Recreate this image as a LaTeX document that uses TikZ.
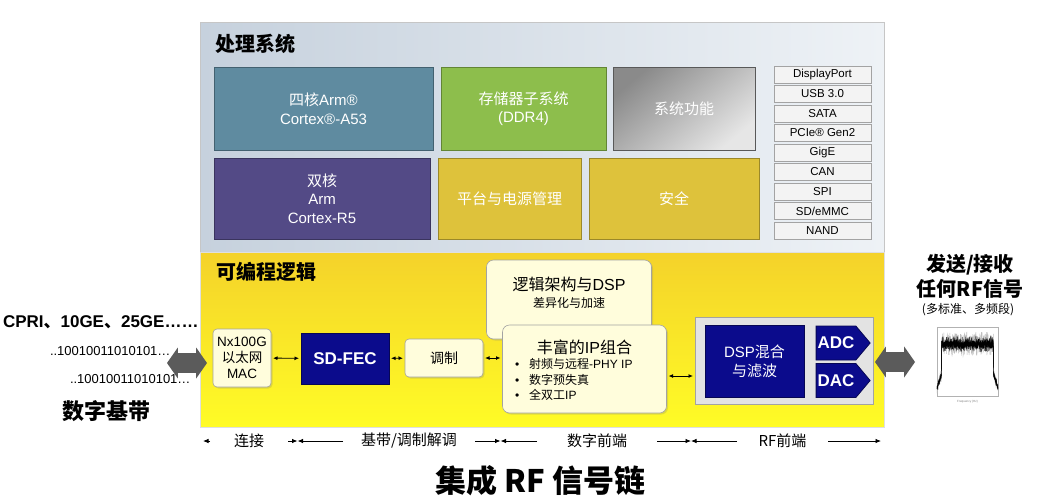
\documentclass[tikz,border=0pt]{standalone}
\usepackage{fontspec}
\setmainfont{Liberation Sans}
\newfontfamily\cjk{Noto Sans CJK SC}
\usetikzlibrary{arrows.meta,shapes.arrows,shapes.symbols,shadows}
\definecolor{rfSteel}{HTML}{5F8BA0}
\definecolor{rfGreen}{HTML}{8DBE4C}
\definecolor{rfPurple}{HTML}{534A86}
\definecolor{rfGold}{HTML}{DEC23B}
\definecolor{rfNavy}{HTML}{0B0B8C}
\definecolor{rfCream}{HTML}{FFFDDC}
\definecolor{rfEdge}{HTML}{A3A3A3}
\definecolor{rfIface}{HTML}{F3F3F3}
\definecolor{rfArrow}{HTML}{5B5B5B}
\definecolor{rfShadeD}{HTML}{8A8A8A}
\definecolor{rfShadeL}{HTML}{E6E6E6}
\definecolor{rfPanelL}{HTML}{C6D1DD}
\definecolor{rfPanelR}{HTML}{EEF2F6}
\definecolor{rfYellowT}{HTML}{F4D22A}
\definecolor{rfYellowB}{HTML}{FFFC26}
\newcommand{\rfsize}[2]{\fontsize{#1}{#2}\selectfont}
\tikzset{
  rf diagram/.style={
    line width=0.8pt,
    every node/.style={inner sep=0pt, outer sep=0pt, text=black,
      font=\rfsize{15}{18.5}}
  },
  ps panel/.style={left color=rfPanelL, right color=rfPanelR,
    draw=gray!45, line width=0.6pt},
  pl panel/.style={top color=rfYellowT, bottom color=rfYellowB,
    draw=gray!25, line width=0.6pt},
  panel title/.style={anchor=west, font=\cjk\bfseries\rfsize{20}{24}},
  ps block/.style={draw=#1!70!black, fill=#1, line width=0.7pt,
    text=white, align=center},
  ps shade/.style={draw=gray!70!black, line width=0.7pt,
    top color=rfShadeD, bottom color=rfShadeL, shading angle=40,
    text=white},
  iface/.style={draw=rfEdge, fill=rfIface, line width=0.6pt,
    minimum width=97pt, minimum height=17pt, font=\rfsize{11.5}{13}},
  pl box/.style={draw=rfEdge, fill=rfCream, line width=0.6pt,
    rounded corners=4pt, align=center,
    drop shadow={opacity=0.25, shadow xshift=1.5pt, shadow yshift=-1.5pt}},
  navy box/.style={draw=rfNavy!60!black, fill=rfNavy, line width=0.6pt,
    text=white, align=center},
  conv/.style={signal, signal to=east, signal pointer angle=100,
    fill=rfNavy, draw=rfNavy!60!black, text=white,
    minimum width=54pt, minimum height=34pt,
    font=\bfseries\rfsize{17}{20}},
  big arrow/.style={double arrow, fill=rfArrow, draw=none,
    inner xsep=0pt, inner ysep=9.5pt, minimum height=40pt,
    double arrow head extend=5.5pt, double arrow tip angle=110},
  link/.style={{Latex[length=4.5pt,width=4pt]}-{Latex[length=4.5pt,width=4pt]},
    line width=0.9pt, shorten <=2pt, shorten >=2pt},
  span/.style={-{Latex[length=5.5pt,width=4.5pt]}, line width=0.8pt},
  span label/.style={font=\cjk\rfsize{15}{18}},
  side title/.style={font=\cjk\bfseries\rfsize{20}{24}}
}

\begin{document}
\begin{tikzpicture}[rf diagram, x=1pt, y=-1pt]
  \useasboundingbox (0,0) rectangle (1063,501);
  \fill[white] (0,0) rectangle (1063,501);

  % processing system
  \shade[ps panel] (200,22) rectangle (884,252);
  \node[panel title] (pstitle) at (215,44) {处理系统};
  \node[ps block=rfSteel, minimum width=219pt, minimum height=83pt]
    (quad) at (323.5,108.5) {{\cjk 四核}Arm®\\Cortex®-A53};
  \node[ps block=rfGreen, minimum width=165pt, minimum height=83pt]
    (mem) at (523.5,108.5) {{\cjk 存储器子系统}\\(DDR4)};
  \node[ps shade, minimum width=142pt, minimum height=83pt]
    (sysf) at (684,108.5) {\cjk 系统功能};
  \node[ps block=rfPurple, minimum width=216pt, minimum height=81pt]
    (dual) at (322,198.5) {{\cjk 双核}\\Arm\\Cortex-R5};
  \node[ps block=rfGold, minimum width=143pt, minimum height=81pt]
    (pmu) at (509.5,198.5) {\cjk 平台与电源管理};
  \node[ps block=rfGold, minimum width=170pt, minimum height=81pt]
    (sec) at (674,198.5) {\cjk 安全};
  \foreach \ifName [count=\ifIdx from 0] in
      {DisplayPort, USB 3.0, SATA, PCIe® Gen2, GigE, CAN, SPI, SD/eMMC, NAND} {
    \node[iface] (if\ifIdx) at (822.5,{74.5+19.5*\ifIdx}) {\ifName};
  }

  % programmable logic
  \shade[pl panel] (200,252) rectangle (884,427);
  \node[panel title] (pltitle) at (216,272) {可编程逻辑};
  \node[pl box, minimum width=58pt, minimum height=58pt, font=\rfsize{13.5}{16}]
    (mac) at (242,358) {Nx100G\\{\cjk 以太网}\\MAC};
  \node[navy box, minimum width=88pt, minimum height=51pt,
    font=\bfseries\rfsize{17}{20}] (fec) at (345,358.5) {SD-FEC};
  \node[pl box, minimum width=78pt, minimum height=38pt, font=\cjk\rfsize{14}{16}]
    (mod) at (444,358) {调制};
  \node[pl box, minimum width=165pt, minimum height=79pt, rounded corners=7pt]
    (fabric) at (569,299.5) {};
  \node[font=\rfsize{16}{19}] (fabricT) at ([yshift=-24pt]fabric.north)
    {{\cjk 逻辑架构与}DSP};
  \node[font=\cjk\rfsize{12}{14}] (fabricS) at ([yshift=-43pt]fabric.north)
    {差异化与加速};
  \node[pl box, minimum width=164pt, minimum height=88pt, rounded corners=7pt]
    (ipbox) at (584.5,369) {};
  \node[font=\rfsize{16}{19}] (ipT) at ([yshift=-22pt]ipbox.north)
    {{\cjk 丰富的}IP{\cjk 组合}};
  \foreach \ipItem [count=\ipIdx from 0] in
      {{{\cjk 射频与远程}-PHY IP}, {\cjk 数字预失真}, {{\cjk 全双工}IP}} {
    \node[anchor=west, font=\rfsize{12}{14}] (ip\ipIdx) at (515,{364+15.5*\ipIdx})
      {•\hspace{10pt}\ipItem};
  }
  \node[draw=rfEdge, fill=gray!22, line width=1pt, minimum width=178pt,
    minimum height=87pt] (rffe) at (784,361) {};
  \node[navy box, minimum width=99pt, minimum height=72pt, font=\rfsize{15}{19}]
    (mix) at (754.5,361) {DSP{\cjk 混合}\\{\cjk 与滤波}};
  \node[conv] (adc) at (836,343) {ADC};
  \node[conv] (dac) at (836,380.5) {DAC};

  \draw[link] (mac) -- (fec);
  \draw[link] (fec) -- (mod);
  \draw[link] (mod) -- (mod -| ipbox.west);
  \draw[link] ([yshift=-7pt]ipbox.east) -- ([yshift=-7pt]ipbox.east -| rffe.west);

  % baseband side
  \node[anchor=west, font=\bfseries\rfsize{17}{20}] (proto) at (3,322)
    {CPRI{\cjk 、}10GE{\cjk 、}25GE……};
  \node[anchor=west, font=\rfsize{13}{15}] (bitsA) at (50,351) {..10010011010101…};
  \node[anchor=west, font=\rfsize{13}{15}] (bitsB) at (70,379) {..10010011010101…};
  \node[side title, font=\cjk\bfseries\rfsize{22}{26}] (bband) at (106,411) {数字基带};
  \node[big arrow] (lnk) at (187,363) {};

  % rf side
  \node[big arrow] (air) at (895,362) {};
  \node[side title] (txrx) at (970,265) {发送/接收};
  \node[side title] (anyrf) at (970,289) {任何RF信号};
  \node[font=\cjk\rfsize{12}{14}] (multi) at (968,310) {(多标准、多频段)};
  \begin{scope}[shift={(937,396)}]
    \draw[gray!60, line width=0.4pt] (0,0) rectangle (61,-69);
    \pgfmathsetseed{7}
    \foreach \specTone/\specAmp in {gray!50/12, black!75/8, black/5, black/3} {
      \draw[\specTone, line width=0.45pt] plot[domain=0:61, samples=300]
        (\x, {(and(\x>4.5,\x<56.5)) ? (-52+\specAmp*rand)
          : (-8-3*min(\x,61-\x)+0.5*\specAmp*rand)});
    }
    \node[font=\rfsize{3}{3.5}, text=gray] (freq) at (30.5,6) {Frequency (Hz)};
  \end{scope}

  % signal chain spans
  \coordinate (s0) at (203,441);
  \coordinate (s1) at (297.5,441);
  \coordinate (s2) at (500.5,441);
  \coordinate (s3) at (691,441);
  \coordinate (s4) at (881,441);
  \node[span label, minimum width=78pt] (conn) at (249,441) {连接};
  \node[span label, minimum width=132pt] (bbmod) at (409,441) {基带/调制解调};
  \node[span label, minimum width=120pt] (dfe) at (597,441) {数字前端};
  \node[span label, minimum width=91pt] (rfend) at (782.5,441) {RF前端};
  \draw[span] (conn) -- (s0);
  \draw[span] (conn) -- (s1);
  \draw[span] (bbmod) -- (s1);
  \draw[span] (bbmod) -- (s2);
  \draw[span] (dfe) -- (s2);
  \draw[span] (dfe) -- (s3);
  \draw[span] (rfend) -- (s3);
  \draw[span] (rfend) -- (s4);

  \node[font=\cjk\bfseries\rfsize{31}{35}] (chain) at (540.5,481) {集成 RF 信号链};
\end{tikzpicture}
\end{document}
